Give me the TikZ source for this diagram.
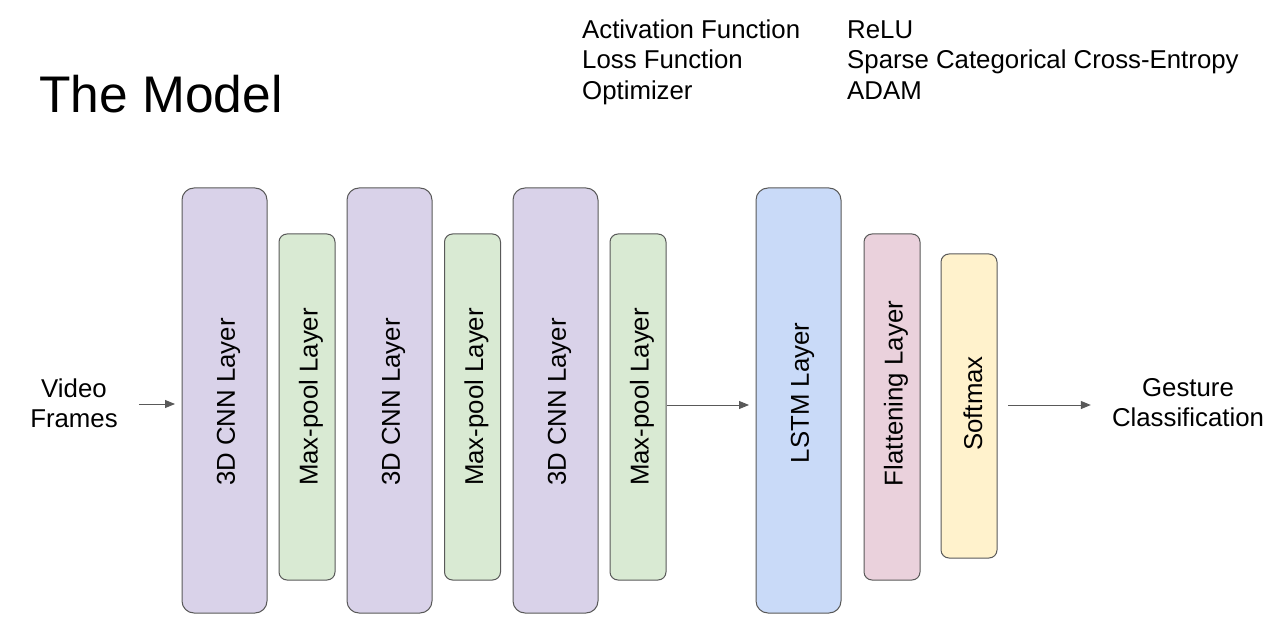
\documentclass[tikz,border=0pt]{standalone}
\usepackage{fontspec}
\setmainfont{Liberation Sans}
\usetikzlibrary{arrows.meta}
\definecolor{bordergray}{HTML}{595959}
\definecolor{cnnc}{HTML}{D9D2E9}
\definecolor{poolc}{HTML}{D9EAD3}
\definecolor{lstmc}{HTML}{C9DAF8}
\definecolor{flatc}{HTML}{EAD1DC}
\definecolor{softc}{HTML}{FFF2CC}
\begin{document}
\begin{tikzpicture}[x=1pt,y=-1pt,
  layerbox/.style={draw=bordergray, line width=1pt, inner sep=0pt, outer sep=0pt},
  bigbox/.style={layerbox, rounded corners=12pt, minimum width=85pt, minimum height=425pt},
  smallbox/.style={layerbox, rounded corners=8pt, minimum width=56pt, minimum height=346pt},
  lbl/.style={xshift=4pt, rotate=90, inner sep=0pt, font=\fontsize{25.8}{30}\selectfont},
  txt/.style={inner sep=0pt, font=\fontsize{25.8}{30}\selectfont},
  arr/.style={draw=bordergray, line width=1pt, -{Triangle[length=10pt,width=8pt]}}
]
\useasboundingbox (0,0) rectangle (1272,636);

% title and settings
\node[inner sep=0pt, anchor=base west, font=\fontsize{51.5}{60}\selectfont] (title) at (39,113) {The Model};
\node[txt, anchor=base west] (k1) at (582,39) {Activation Function};
\node[txt, anchor=base west] (k2) at (582,69) {Loss Function};
\node[txt, anchor=base west] (k3) at (582,100) {Optimizer};
\node[txt, anchor=base west] (v1) at (847,39) {ReLU};
\node[txt, anchor=base west] (v2) at (847,69) {Sparse Categorical Cross-Entropy};
\node[txt, anchor=base west] (v3) at (847,100) {ADAM};

% layer boxes
\node[bigbox, fill=cnnc] (c1) at (224.5,400.5) {};
\node[smallbox, fill=poolc] (p1) at (307,407) {};
\node[bigbox, fill=cnnc] (c2) at (389.5,400.5) {};
\node[smallbox, fill=poolc] (p2) at (472.5,407) {};
\node[bigbox, fill=cnnc] (c3) at (555.5,400.5) {};
\node[smallbox, fill=poolc] (p3) at (638,407) {};
\node[bigbox, fill=lstmc] (ls) at (798.5,400.5) {};
\node[smallbox, fill=flatc] (fl) at (892,407) {};
\node[layerbox, rounded corners=8pt, minimum width=56pt, minimum height=304pt, fill=softc] (sm) at (969,406) {};

% labels
\node[lbl] (c1t) at (c1.center |- 0,402) {3D CNN Layer};
\node[lbl] (p1t) at (p1.center |- 0,397) {Max-pool Layer};
\node[lbl] (c2t) at (c2.center |- 0,402) {3D CNN Layer};
\node[lbl] (p2t) at (p2.center |- 0,397) {Max-pool Layer};
\node[lbl] (c3t) at (c3.center |- 0,402) {3D CNN Layer};
\node[lbl] (p3t) at (p3.center |- 0,397) {Max-pool Layer};
\node[lbl] (lst) at (ls.center |- 0,393) {LSTM Layer};
\node[lbl] (flt) at (fl.center |- 0,393.5) {Flattening Layer};
\node[lbl] (smt) at (sm.center |- 0,403.5) {Softmax};

% input / output
\node[txt, align=center] (vid) at (74,403) {Video\\Frames};
\node[txt, align=center] (ges) at (1188,403) {Gesture\\Classification};

% connectors
\draw[arr, shorten <=21pt, shorten >=7pt] ([yshift=-1pt]vid.east) -- ([yshift=-1pt]vid.east -| c1.west);
\draw[arr, shorten <=1pt, shorten >=7pt] ([yshift=2pt]p3.east) -- ([yshift=2pt]p3.east -| ls.west);
\draw[arr, shorten <=11pt, shorten >=21pt] ([yshift=1pt]sm.east) -- ([yshift=1pt]sm.east -| ges.west);
\end{tikzpicture}
\end{document}
